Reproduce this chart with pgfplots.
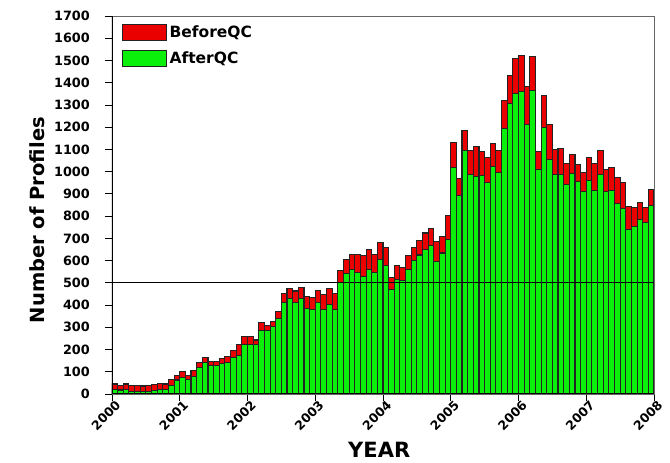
\documentclass[border=0pt]{standalone}
\usepackage{pgfplots}
\pgfplotsset{compat=1.18}
\usepackage{pgfplotstable}
\usepackage{fontspec}
\setmainfont{DejaVu Sans}
\definecolor{qcgreen}{RGB}{10,240,10}
\definecolor{qcred}{RGB}{235,0,0}
\definecolor{edge}{RGB}{35,35,35}
\pgfplotsset{qcbox legend/.style={legend image code/.code={\draw[##1] (0pt,-8pt) rectangle (44pt,8pt);}}}

\pgfplotstableread{
i before after
0 45 19
1 40 18
2 45 19
3 37 12
4 40 12
5 36 10
6 39 12
7 43 16
8 46 19
9 45 19
10 67 40
11 85 63
12 100 75
13 85 64
14 107 80
15 140 119
16 164 142
17 146 127
18 146 127
19 158 137
20 169 140
21 197 164
22 221 172
23 257 221
24 257 224
25 243 221
26 321 287
27 309 287
28 328 303
29 373 340
30 451 410
31 473 431
32 463 410
33 478 430
34 440 384
35 436 378
36 467 410
37 448 381
38 473 403
39 452 381
40 557 503
41 604 542
42 627 560
43 627 548
44 622 530
45 649 560
46 627 548
47 682 604
48 657 578
49 525 470
50 579 515
51 570 512
52 622 560
53 660 600
54 690 625
55 724 649
56 746 669
57 687 597
58 709 634
59 803 694
60 1130 1019
61 969 891
62 1187 1094
63 1097 987
64 1112 980
65 1089 983
66 1064 950
67 1127 1022
68 1097 998
69 1319 1196
70 1434 1307
71 1509 1352
72 1524 1359
73 1382 1214
74 1519 1364
75 1089 1010
76 1344 1199
77 1214 1055
78 1100 987
79 1105 987
80 1037 944
81 1079 992
82 1034 954
83 995 909
84 1064 962
85 1037 917
86 1097 987
87 1010 909
88 1019 917
89 974 857
90 950 834
91 842 741
92 839 755
93 861 786
94 839 770
95 920 849
}\qcdata

\begin{document}
\begin{tikzpicture}
\begin{axis}[
  scale only axis, width=542pt, height=378pt,
  xmin=0, xmax=96, ymin=0, ymax=1700,
  xtick={0,12,...,96},
  xticklabels={2000,2001,2002,2003,2004,2005,2006,2007,2008},
  ytick={0,100,...,1700},
  tick pos=left, tick align=outside, major tick length=7pt,
  tick style={black, line width=0.8pt},
  axis line style={draw=black!60, line width=0.5pt},
  /pgf/number format/assume math mode=true,
  /pgf/number format/1000 sep={},
  yticklabel style={font=\bfseries\fontsize{12.8}{14}\selectfont, inner sep=2pt, xshift=-13pt},
  every x tick label/.append style={font=\bfseries\fontsize{12.5}{14}\selectfont, rotate=45, anchor=north east, inner sep=1pt, xshift=4pt},
  ylabel={Number of Profiles}, xlabel={YEAR},
  ylabel style={font=\bfseries\fontsize{19.5}{22}\selectfont, at={(axis description cs:-0.138,0.46)}, anchor=center},
  xlabel style={font=\bfseries\fontsize{21}{24}\selectfont, at={(axis description cs:0.493,-0.148)}, anchor=center},
  legend style={at={(axis description cs:0.018,0.981)}, anchor=north west, draw=none, fill=none, inner sep=0pt, row sep=8pt, font=\bfseries\fontsize{15.5}{17}\selectfont, nodes={inner sep=2.5pt}},
  legend cell align=left,
]
\addplot[ybar, bar width=1, bar shift=0pt, fill=qcred, draw=edge, line width=1.1pt, qcbox legend]
  table[x expr=\thisrow{i}+0.5, y=before] {\qcdata};
\addlegendentry{BeforeQC}
\addplot[ybar, bar width=1, bar shift=0pt, fill=qcgreen, draw=edge, line width=1.1pt, qcbox legend]
  table[x expr=\thisrow{i}+0.5, y=after] {\qcdata};
\addlegendentry{AfterQC}
\addplot[black, line width=0.8pt, sharp plot, mark=none, forget plot] coordinates {(0,500) (96,500)};
\draw[line width=1.6pt] (rel axis cs:0,1) -- (rel axis cs:0,0) -- (rel axis cs:1,0);
\end{axis}
\pgfresetboundingbox
\path[use as bounding box] (current axis.south west) ++(-112pt,-69pt) rectangle ++(670pt,463pt);
\end{tikzpicture}
\end{document}
